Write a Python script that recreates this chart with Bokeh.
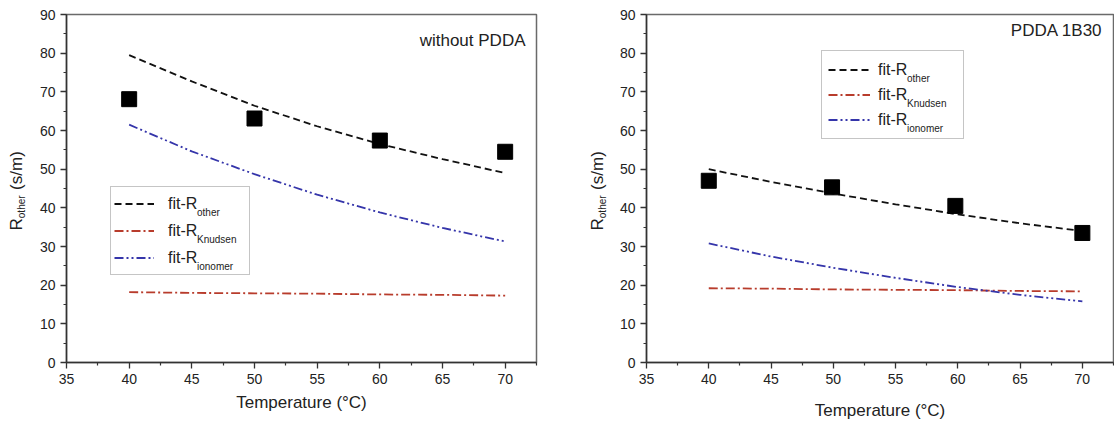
import math
from bokeh.plotting import figure
from bokeh.layouts import row
from bokeh.models import Range1d, FixedTicker, Label, Legend, LegendItem
from bokeh.embed import file_html
from bokeh.resources import INLINE

# ---- data ----
x_ticks = [35, 40, 45, 50, 55, 60, 65, 70]
x_minor = [37.5, 42.5, 47.5, 52.5, 57.5, 62.5, 67.5, 72.5]
y_ticks = [0, 10, 20, 30, 40, 50, 60, 70, 80, 90]
y_minor = [5, 15, 25, 35, 45, 55, 65, 75, 85]

temps_fit = [40, 45, 50, 55, 60, 65, 70]

left_title = "without PDDA"
left_meas_T = [40, 50, 60, 70]
left_meas_R = [68.1, 63.1, 57.4, 54.5]
left_fit_other = [79.5, 72.7, 66.4, 61.1, 56.5, 52.6, 49.0]
left_fit_knudsen = [18.2, 18.0, 17.9, 17.8, 17.6, 17.5, 17.3]
left_fit_ionomer = [61.5, 54.6, 48.7, 43.4, 38.8, 34.8, 31.3]

right_title = "PDDA 1B30"
right_meas_T = [40, 49.9, 59.8, 70]
right_meas_R = [47.0, 45.3, 40.5, 33.5]
right_fit_other = [50.0, 46.7, 43.7, 40.9, 38.3, 36.0, 34.0]
right_fit_knudsen = [19.2, 19.1, 18.9, 18.8, 18.7, 18.5, 18.4]
right_fit_ionomer = [30.8, 27.4, 24.5, 21.9, 19.5, 17.5, 15.8]

legend_main = "fit-R"
legend_subs = ["other", "Knudsen", "ionomer"]
ylabel_main = "R" + "\u00a0" * 6 + "(s/m)"
ylabel_sub = "other"

FONT = "Liberation Sans"
TXT = "#222222"


def lab(x, y, text, size, align="left", baseline="middle", angle=0.0):
    return Label(x=x, y=y, x_units="screen", y_units="screen", text=text,
                 text_font=FONT, text_font_size=size, text_color=TXT,
                 text_align=align, text_baseline=baseline, angle=angle,
                 level="overlay")


def make_panel(title, meas_T, meas_R, other, knudsen, ionomer,
               border_left, border_right, frame_w, leg, title_xy, xlab_standoff,
               ylab_x):
    p = figure(frame_width=frame_w, frame_height=348,
               min_border_left=border_left, min_border_right=border_right,
               min_border_top=14, min_border_bottom=66,
               x_range=Range1d(35, 72.5), y_range=Range1d(0, 90),
               output_backend="svg", toolbar_location=None, title=None)
    p.grid.visible = False
    p.outline_line_color = "#6a6a6a"
    p.outline_line_width = 1.5

    for ax in (p.xaxis[0], p.yaxis[0]):
        ax.axis_line_color = "#333333"
        ax.axis_line_width = 1.5
        ax.major_tick_line_color = "#333333"
        ax.minor_tick_line_color = "#333333"
        ax.major_tick_line_width = 1.3
        ax.minor_tick_line_width = 1.2
        ax.major_tick_in = 0
        ax.major_tick_out = 6
        ax.minor_tick_in = 0
        ax.minor_tick_out = 3
        ax.major_label_text_font = FONT
        ax.major_label_text_font_size = "14px"
        ax.major_label_text_color = TXT
        ax.major_label_standoff = 5

    p.xaxis.ticker = FixedTicker(ticks=x_ticks, minor_ticks=x_minor)
    p.yaxis.ticker = FixedTicker(ticks=y_ticks, minor_ticks=y_minor)
    p.xaxis.axis_label = "Temperature (°C)"
    p.xaxis.axis_label_text_font = FONT
    p.xaxis.axis_label_text_font_size = "17px"
    p.xaxis.axis_label_text_font_style = "normal"
    p.xaxis.axis_label_text_color = TXT
    p.xaxis.axis_label_standoff = xlab_standoff

    r_other = p.line(temps_fit, other, line_color="#111111", line_width=1.8,
                     line_dash="7 4")
    r_kn = p.line(temps_fit, knudsen, line_color="#b83c2c", line_width=1.8,
                  line_dash="9 3 2 3")
    r_io = p.line(temps_fit, ionomer, line_color="#3535aa", line_width=1.8,
                  line_dash="9 3 2 3 2 3")
    p.scatter(meas_T, meas_R, marker="square", size=15, color="black")

    lx, ly, pad, gw, stand, lh, lw = leg
    legend = Legend(items=[LegendItem(label=legend_main, renderers=[r])
                           for r in (r_other, r_kn, r_io)],
                    location=(lx, ly), padding=pad, spacing=0, margin=0,
                    glyph_width=gw, glyph_height=lh, label_height=lh,
                    label_width=lw, label_standoff=stand,
                    label_text_font=FONT, label_text_font_size="16px",
                    label_text_color=TXT,
                    border_line_color="#8c8c8c", border_line_width=1,
                    background_fill_alpha=0)
    p.add_layout(legend)

    # panel title
    p.add_layout(lab(title_xy[0], title_xy[1], title, "17px", align="right"))

    # subscripts of the legend entries
    top = ly + 3 * lh + 2 * pad
    sub_x = lx + pad + gw + stand + 29.5
    for i, s in enumerate(legend_subs):
        cy = top - pad - lh / 2 - lh * i
        p.add_layout(lab(sub_x, cy - 7, s, "10px"))

    # rotated y-axis label R_other (s/m), in the left side panel
    by = 132
    p.add_layout(lab(ylab_x[0], by, ylabel_main, "17px", baseline="alphabetic",
                     angle=math.pi / 2), "left")
    p.add_layout(lab(ylab_x[1], by + 12.3, ylabel_sub, "10px",
                     baseline="alphabetic", angle=math.pi / 2), "left")
    return p


p1 = make_panel(left_title, left_meas_T, left_meas_R, left_fit_other,
                left_fit_knudsen, left_fit_ionomer,
                border_left=66, border_right=21, frame_w=470,
                leg=(44, 87, 3, 40, 14, 27, 78), title_xy=(459, 322),
                xlab_standoff=6, ylab_x=(-1, 14.5))
p2 = make_panel(right_title, right_meas_T, right_meas_R, right_fit_other,
                right_fit_knudsen, right_fit_ionomer,
                border_left=89, border_right=1, frame_w=467,
                leg=(175, 223, 6, 42, 8, 25, 79), title_xy=(456, 332),
                xlab_standoff=14, ylab_x=(0, 15.5))

layout = row(p1, p2)
open("out.html", "w").write(file_html(layout, INLINE))
